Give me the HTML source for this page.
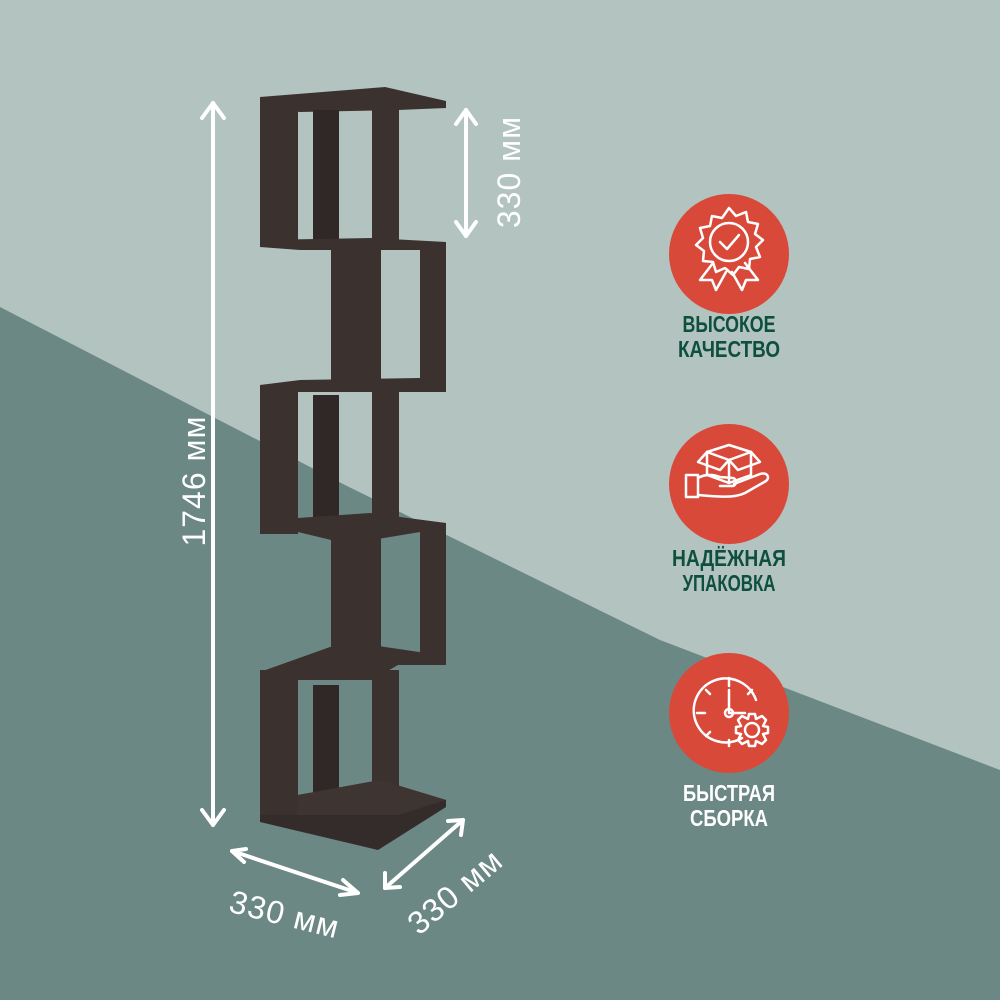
<!DOCTYPE html>
<html><head><meta charset="utf-8"><style>
html,body{margin:0;padding:0;width:1000px;height:1000px;overflow:hidden;background:#b2c3c0}
svg{display:block}
.lbl{font-family:"Liberation Sans",sans-serif;fill:#fff;font-size:32px;letter-spacing:1px}
.cap{font-family:"Liberation Sans",sans-serif;font-weight:bold;font-size:23px;text-anchor:middle}
</style></head><body>
<svg width="1000" height="1000" viewBox="0 0 1000 1000">
<rect width="1000" height="1000" fill="#b2c3c0"/>
<polygon points="0,307 345,485 660,640 1000,770 1000,1000 0,1000" fill="#6b8884"/>

<g fill="#3b3230">
 <polygon points="260,97 385,87 446,101 446,108 398,110 300,112 260,108"/>
 <rect x="260" y="100" width="38" height="146"/>
 <rect x="313" y="110" width="26" height="132" fill="#2f2826"/>
 <rect x="372" y="100" width="27" height="145"/>
 <polygon points="260,240 372,238 446,242 446,250 300,250 260,247"/>
 <rect x="331" y="246" width="50" height="140"/>
 <rect x="420" y="245" width="26" height="140"/>
 <polygon points="260,385 300,380 420,378 446,385 446,392 372,392 260,392"/>
 <rect x="260" y="388" width="38" height="146"/>
 <rect x="313" y="395" width="26" height="130" fill="#2f2826"/>
 <rect x="372" y="388" width="27" height="140"/>
 <polygon points="298,518 370,513 446,523 446,533 420,532 372,540 331,540 298,532"/>
 <rect x="331" y="535" width="50" height="130"/>
 <rect x="420" y="526" width="26" height="136"/>
 <polygon points="260,672 330,647 372,645 446,656 446,665 398,665 372,680 260,680"/>
 <rect x="260" y="670" width="38" height="152"/>
 <rect x="313" y="685" width="26" height="110" fill="#2f2826"/>
 <rect x="372" y="670" width="27" height="130"/>
 <polygon points="298,795 380,780 446,800 446,807 378,850 260,822 260,815 298,815" fill="#342c2a"/>
 <polygon points="298,795 380,780 446,800 398,815 298,815" fill="#3e3533"/>
</g>

<g stroke="#fff" stroke-width="4" fill="none" stroke-linecap="round" stroke-linejoin="round">
 <line x1="213" y1="103" x2="213" y2="825"/>
 <polyline points="202,118 213,103 224,118"/>
 <polyline points="202,810 213,825 224,810"/>
 <line x1="466" y1="110" x2="466" y2="236"/>
 <polyline points="456,124 466,110 476,124"/>
 <polyline points="456,222 466,236 476,222"/>
 <line x1="232" y1="851" x2="358" y2="893"/>
 <polyline points="246,849 232,851 244,862"/>
 <polyline points="343,880 358,893 340,895"/>
 <line x1="385" y1="888" x2="463" y2="820"/>
 <polyline points="385,873 385,888 400,887"/>
 <polyline points="448,821 463,820 461,835"/>
</g>
<text class="lbl" transform="translate(205,481) rotate(-90)" text-anchor="middle" font-size="33" letter-spacing="2">1746 мм</text>
<text class="lbl" transform="translate(520,172) rotate(-90)" text-anchor="middle" font-size="30" letter-spacing="2">330 мм</text>
<text class="lbl" transform="translate(282,925) rotate(14)" text-anchor="middle" letter-spacing="2">330 мм</text>
<text class="lbl" transform="translate(462,900) rotate(-40)" text-anchor="middle" letter-spacing="2">330 мм</text>

<circle cx="729" cy="254" r="60" fill="#d9493a"/>
<circle cx="729" cy="484" r="60" fill="#d9493a"/>
<circle cx="729" cy="713" r="60" fill="#d9493a"/>
<g stroke="#fff" stroke-width="2.5" fill="none" stroke-linecap="round" stroke-linejoin="round">
 <polygon points="729,208 736,216 746,212 748,222 758,224 755,234 763,240 756,247 760,257 750,259 749,269 739,267 733,275 725,268 716,272 713,262 703,261 704,251 696,245 703,238 700,228 710,226 712,216 722,218"/>
 <circle cx="729" cy="242" r="19"/>
 <polyline points="720,242 727,249 739,235"/>
 <polyline points="713,263 700,280 712,280 716,290 726,272"/>
 <polyline points="745,263 758,280 746,280 742,290 732,272"/>
 <polygon points="707,452 729,445 751,452 729,460"/>
 <polyline points="707,452 707,475 729,483 751,475 751,452"/>
 <line x1="729" y1="460" x2="729" y2="483"/>
 <polyline points="707,452 698,462 720,470 729,460"/>
 <polyline points="751,452 760,462 738,470 729,460"/>
 <rect x="686" y="475" width="12" height="22"/>
 <path d="M698,478 C705,474 712,474 720,477 L733,478 C737,479 737,485 733,486 L720,486 M734,484 L760,474 C768,472 770,478 766,481 L745,493 C735,498 720,497 698,495"/>
 <path d="M756,700 A32,32 0 1,0 742,738"/>
 <line x1="729" y1="678" x2="729" y2="686"/>
 <line x1="697" y1="713" x2="705" y2="713"/>
 <line x1="729" y1="740" x2="729" y2="746"/>
 <line x1="706" y1="690" x2="710" y2="694"/>
 <line x1="752" y1="690" x2="748" y2="694"/>
 <line x1="706" y1="736" x2="710" y2="732"/>
 <polyline points="729,690 729,713 745,713"/>
 <circle cx="729" cy="713" r="4"/>
 <circle cx="752" cy="730" r="7"/>
 <polygon points="749,714 755,714 756,719 762,716 766,720 763,726 768,727 768,733 763,734 766,740 762,744 756,741 755,746 749,746 748,741 742,744 738,740 741,734 736,733 736,727 741,726 738,720 742,716 748,719"/>
</g>
<text class="cap" x="729" y="332" fill="#0f4f3e" textLength="93" lengthAdjust="spacingAndGlyphs">ВЫСОКОЕ</text>
<text class="cap" x="729" y="357" fill="#0f4f3e" textLength="102" lengthAdjust="spacingAndGlyphs">КАЧЕСТВО</text>
<text class="cap" x="729" y="566" fill="#0f4f3e" textLength="114" lengthAdjust="spacingAndGlyphs">НАДЁЖНАЯ</text>
<text class="cap" x="729" y="591" fill="#0f4f3e" textLength="93" lengthAdjust="spacingAndGlyphs">УПАКОВКА</text>
<text class="cap" x="729" y="801" fill="#fff" textLength="92" lengthAdjust="spacingAndGlyphs">БЫСТРАЯ</text>
<text class="cap" x="729" y="826" fill="#fff" textLength="78" lengthAdjust="spacingAndGlyphs">СБОРКА</text>
</svg>
</body></html>
